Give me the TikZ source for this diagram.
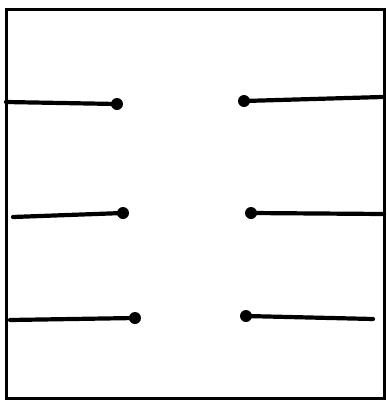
\documentclass[tikz,border=0pt]{standalone}
\begin{document}
\begin{tikzpicture}[x=1pt, y=-1pt, line cap=round,
    wire/.style={line width=4.2pt},
    tipdot/.style={fill=black}]
    \useasboundingbox (0,0) rectangle (387,400);
    \draw[line width=3pt] (6,9) rectangle (384,398);
    % left half: line from the wall to a dot
    \foreach \n/\xa/\ya/\xb/\yb in {1/6/102/117/104, 2/13/217/123/213, 3/10/320/135/318}
    {
        \coordinate (wl\n) at (\xa,\ya);
        \coordinate (dl\n) at (\xb,\yb);
        \draw[wire] (wl\n) -- (dl\n);
        \fill[tipdot] (dl\n) circle (6pt);
    }
    % right half: dot, then line out to the wall
    \foreach \n/\xa/\ya/\xb/\yb in {1/244/101/382/97, 2/251/213/384/214, 3/246/316/373/319}
    {
        \coordinate (dr\n) at (\xa,\ya);
        \coordinate (wr\n) at (\xb,\yb);
        \draw[wire] (dr\n) -- (wr\n);
        \fill[tipdot] (dr\n) circle (6pt);
    }
\end{tikzpicture}
\end{document}
